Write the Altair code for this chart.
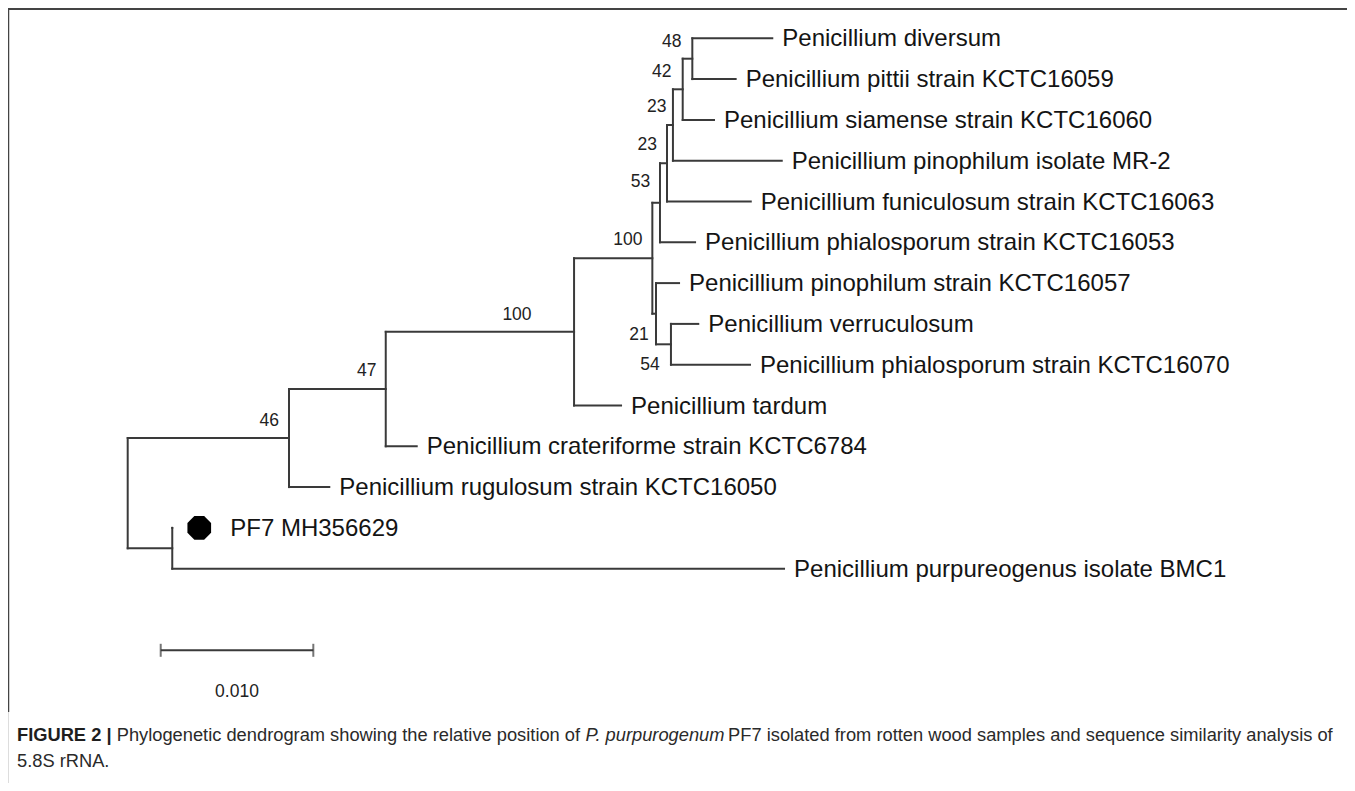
import altair as alt
import pandas as pd

# ---------------- data ----------------
leaf_labels = [
    "Penicillium diversum",
    "Penicillium pittii strain KCTC16059",
    "Penicillium siamense strain KCTC16060",
    "Penicillium pinophilum isolate MR-2",
    "Penicillium funiculosum strain KCTC16063",
    "Penicillium phialosporum strain KCTC16053",
    "Penicillium pinophilum strain KCTC16057",
    "Penicillium verruculosum",
    "Penicillium phialosporum strain KCTC16070",
    "Penicillium tardum",
    "Penicillium crateriforme strain KCTC6784",
    "Penicillium rugulosum strain KCTC16050",
    "PF7 MH356629",
    "Penicillium purpureogenus isolate BMC1",
]
# distance from root to each tip (substitutions per site)
leaf_depth = [0.04224, 0.03984, 0.03842, 0.04286, 0.04083, 0.03718, 0.03613,
              0.03739, 0.04078, 0.03233, 0.01894, 0.01321, 0.00292, 0.04301]

# internal nodes (post-order); children are leaf indices or node names
node_names = ["n48", "n42", "n23a", "n23b", "n53", "n54", "n21", "n100i",
              "n100o", "n47", "n46", "npf7", "root"]
node_children = [[0, 1], ["n48", 2], ["n42", 3], ["n23a", 4], ["n23b", 5],
                 [7, 8], [6, "n54"], ["n53", "n21"], ["n100i", 9],
                 ["n100o", 10], ["n47", 11], [12, 13], ["n46", "npf7"]]
node_depth = [0.03700, 0.03637, 0.03573, 0.03534, 0.03488, 0.03560, 0.03462,
              0.03438, 0.02925, 0.01691, 0.01057, 0.00292, 0.0]

# bootstrap support values and where they are printed (distance, row)
support_values = ["48", "42", "23", "23", "53", "100", "21", "54", "100", "47", "46"]
support_x = [0.03565, 0.03499, 0.03467, 0.03405, 0.03360, 0.03278, 0.03351,
             0.03423, 0.02551, 0.01566, 0.00928]
support_y = [0.083, 0.819, 1.676, 2.615, 3.534, 4.944, 7.272, 8.007, 6.782,
             8.147, 9.373]

scale_bar_length = 0.010
scale_bar_label = "0.010"
scale_bar_start = 0.002163
scale_bar_row = 15.0

caption_line1 = [
    ("FIGURE 2 |", "bold"),
    (" Phylogenetic dendrogram showing the relative position of ", "normal"),
    ("P. purpurogenum", "italic"),
    (" PF7 isolated from rotten wood samples and sequence similarity analysis of", "normal"),
]
caption_line2 = "5.8S rRNA."

# ---------------- layout ----------------
W, H = 1339, 775
PX_PER_UNIT = 15260.0
ROW_PX = 40.8
x0 = -119.7 / PX_PER_UNIT
y0 = -30.3 / ROW_PX
xs = alt.Scale(domain=[x0, x0 + W / PX_PER_UNIT], nice=False, zero=False)
ys = alt.Scale(domain=[y0, y0 + H / ROW_PX], nice=False, zero=False, reverse=True)

FONT = "Liberation Sans, Arial, sans-serif"
LINE = "#3a3a3a"

# compute coordinates of nodes
depth = {i: d for i, d in enumerate(leaf_depth)}
row = {i: float(i) for i in range(len(leaf_labels))}
for name, ch, d in zip(node_names, node_children, node_depth):
    depth[name] = d
    row[name] = (row[ch[0]] + row[ch[-1]]) / 2.0

segs = []
for name, ch in zip(node_names, node_children):
    d = depth[name]
    segs.append(dict(x=d, x2=d, y=row[ch[0]], y2=row[ch[-1]]))
    for c in ch:
        segs.append(dict(x=d, x2=depth[c], y=row[c], y2=row[c]))
seg_df = pd.DataFrame(segs)

leaf_df = pd.DataFrame({"label": leaf_labels, "x": leaf_depth,
                        "y": [float(i) for i in range(len(leaf_labels))]})
main_leaves = leaf_df[leaf_df["label"] != "PF7 MH356629"]
pf7 = leaf_df[leaf_df["label"] == "PF7 MH356629"]

sup_df = pd.DataFrame({"v": support_values, "x": support_x, "y": support_y})

sb_df = pd.DataFrame({"x": [scale_bar_start], "x2": [scale_bar_start + scale_bar_length],
                      "y": [scale_bar_row], "mid": [scale_bar_start + scale_bar_length / 2],
                      "t": [scale_bar_label]})
sb_ends = pd.DataFrame({"x": [scale_bar_start, scale_bar_start + scale_bar_length],
                        "y": [scale_bar_row, scale_bar_row]})

X = lambda f: alt.X(f, type="quantitative", scale=xs, axis=None)
Y = lambda f: alt.Y(f, type="quantitative", scale=ys, axis=None)

branches = alt.Chart(seg_df).mark_rule(color=LINE, strokeWidth=2, strokeCap="square").encode(
    x=X("x"), x2="x2", y=Y("y"), y2="y2")

leaf_text = alt.Chart(main_leaves).mark_text(
    align="left", baseline="middle", dx=10, dy=1, font=FONT, fontSize=24, color="#141414"
).encode(x=X("x"), y=Y("y"), text="label:N")

pf7_text = alt.Chart(pf7).mark_text(
    align="left", baseline="middle", dx=58, dy=1, font=FONT, fontSize=24, color="#141414"
).encode(x=X("x"), y=Y("y"), text="label:N")

octagon = "M-0.414,-1L0.414,-1L1,-0.414L1,0.414L0.414,1L-0.414,1L-1,0.414L-1,-0.414Z"
pf7_marker = alt.Chart(pf7).mark_point(
    shape=octagon, size=560, filled=True, color="black", opacity=1, xOffset=27
).encode(x=X("x"), y=Y("y"))

support = alt.Chart(sup_df).mark_text(
    align="center", baseline="middle", font=FONT, fontSize=17.5, color="#222222"
).encode(x=X("x"), y=Y("y"), text="v:N")

sb_line = alt.Chart(sb_df).mark_rule(color=LINE, strokeWidth=2).encode(
    x=X("x"), x2="x2", y=Y("y"))
sb_tick = alt.Chart(sb_ends).mark_tick(orient="vertical", size=13, thickness=2, color=LINE).encode(
    x=X("x"), y=Y("y"))
sb_text = alt.Chart(sb_df).mark_text(
    align="center", baseline="middle", dy=42, font=FONT, fontSize=17.5, color="#222222"
).encode(x=X("mid"), y=Y("y"), text="t:N")

one = pd.DataFrame({"a": [0]})
frame_top = alt.Chart(one).mark_rule(color="#444444", strokeWidth=2).encode(
    x=alt.value(-1), x2=alt.value(W + 8), y=alt.value(1), y2=alt.value(1))
frame_left = alt.Chart(one).mark_rule(color="#444444", strokeWidth=1.5).encode(
    x=alt.value(0.5), x2=alt.value(0.5), y=alt.value(0), y2=alt.value(704))

# caption: simple Arial metrics to place the mixed-style runs
REG = {' ': 278, '.': 278, '|': 260}
REG.update({d: 556 for d in "0123456789"})
REG.update(dict(zip("ABCDEFGHIJKLMNOPQRSTUVWXYZ",
                    [667, 667, 722, 722, 667, 611, 778, 722, 278, 500, 667, 556, 833,
                     722, 778, 667, 778, 722, 667, 611, 722, 667, 944, 667, 667, 611])))
REG.update(dict(zip("abcdefghijklmnopqrstuvwxyz",
                    [556, 556, 500, 556, 556, 278, 556, 556, 222, 222, 500, 222, 833,
                     556, 556, 556, 556, 333, 500, 278, 556, 500, 722, 500, 500, 500])))
BOLD = dict(REG)
BOLD.update({'|': 280, 'R': 722, 'U': 722, 'G': 778})


def width(s, table, fs, style):
    w = sum(table.get(c, 556) for c in s) * fs / 1000.0
    if style == "italic":
        w -= 4.0  # italic run sets slightly tighter
    return w


CAP_FS = 18.3
cap_layers = []
cx = 9.0
for txt, style in caption_line1:
    table = BOLD if style == "bold" else REG
    lead = len(txt) - len(txt.lstrip(" "))
    start = cx + sum(table[' '] for _ in range(lead)) * CAP_FS / 1000.0
    cap_layers.append(alt.Chart(one).mark_text(
        align="left", baseline="middle", font=FONT, fontSize=CAP_FS,
        fontWeight="bold" if style == "bold" else "normal",
        fontStyle="italic" if style == "italic" else "normal",
        color="#1e1e1e" if style == "bold" else "#2a2a2a",
    ).encode(x=alt.value(start), y=alt.value(728), text=alt.value(txt.strip(" "))))
    cx += width(txt, table, CAP_FS, style)
cap_layers.append(alt.Chart(one).mark_text(
    align="left", baseline="middle", font=FONT, fontSize=CAP_FS, color="#2a2a2a"
).encode(x=alt.value(9), y=alt.value(754), text=alt.value(caption_line2)))

chart = alt.layer(
    frame_top, frame_left, branches, leaf_text, pf7_text, pf7_marker, support,
    sb_line, sb_tick, sb_text, *cap_layers
).properties(
    width=W, height=H, autosize=alt.AutoSizeParams(type="none"), padding=0
).configure_view(stroke=None).configure(background="white")

chart.save("out.html", embed_options={"renderer": "svg", "actions": False})
